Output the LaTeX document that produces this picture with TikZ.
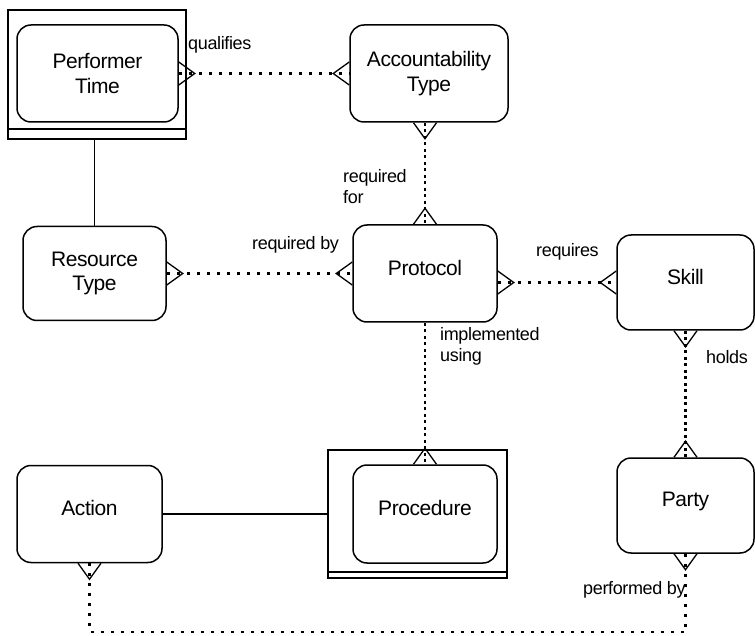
\documentclass[tikz,border=0pt]{standalone}
\usepackage{fontspec}
\setmainfont[LetterSpace=-2]{Liberation Sans}
\usepackage{tikz}
\usetikzlibrary{positioning,calc}

\begin{document}
\begin{tikzpicture}[
    x=1pt, y=-1pt,
    entity/.style={
        draw=black,
        line width=1.5pt,
        rounded corners=14pt,
        inner sep=0pt,
        align=center,
        font=\fontsize{21}{24.5}\selectfont
    },
    frame/.style={
        draw=black,
        line width=1.5pt,
        inner sep=0pt
    },
    lbl/.style={
        inner sep=0pt,
        align=left,
        anchor=west,
        font=\fontsize{18}{21}\selectfont
    },
    link/.style={line width=1.7pt},
    rel/.style={line width=2.6pt, dash pattern=on 3pt off 7pt},
    vrel/.style={line width=2.6pt, dash pattern=on 3pt off 3.5pt},
    foot/.style={line width=1.3pt},
    crow/.pic={\draw[foot] (0,-11.5) -- (-16,0) -- (0,11.5);}
]
\useasboundingbox (0,0) rectangle (755,636);

% framed entities
\node[frame, minimum width=178pt, minimum height=129pt] (ptframe) at (97,74.5) {};
\draw[link] ([yshift=11pt]ptframe.south west) -- ([yshift=11pt]ptframe.south east);
\node[frame, minimum width=179pt, minimum height=128pt] (procframe) at (417.5,514) {};
\draw[link] ([yshift=7pt]procframe.south west) -- ([yshift=7pt]procframe.south east);

% entities
\node[entity, minimum width=161pt, minimum height=97pt] (pt) at (97.5,73.5) {Performer\\Time};
\node[entity, minimum width=158pt, minimum height=97pt] (acc) at (429,73.5) {Accountability\\Type};
\node[entity, minimum width=143pt, minimum height=94pt] (restype) at (94.5,273.5) {Resource\\Type};
\node[entity, minimum width=144pt, minimum height=97pt, text depth=12pt] (prot) at (425,273.5) {Protocol};
\node[entity, minimum width=137pt, minimum height=95pt, text depth=12pt] (skill) at (685.5,282.5) {Skill};
\node[entity, minimum width=137pt, minimum height=95pt, text depth=12pt] (party) at (685.5,505.5) {Party};
\node[entity, minimum width=145pt, minimum height=97pt, text depth=12pt] (action) at (89.5,514) {Action};
\node[entity, minimum width=144pt, minimum height=98pt, text depth=12pt] (proc) at (425,514) {Procedure};

\coordinate (loop) at (0,632);

% relationships
\draw[rel] (pt.east) -- (acc.west);
\draw[vrel] (prot.north |- acc.south) -- (prot.north);
\draw[rel] (restype.east) -- (prot.west);
\draw[rel] (prot.east |- skill.west) -- (skill.west);
\draw[vrel] (prot.south) -- (proc.north);
\draw[vrel] (skill.south) -- (party.north);
\draw[rel] (action.south) -- (action.south |- loop) -| (party.south);
\draw[link] (restype.north |- ptframe.south) -- (restype.north);
\draw[link] (action.east) -- (action.east -| procframe.west);

% crow's feet
\pic[rotate=180] at (pt.east) {crow};
\pic at (acc.west) {crow};
\pic[rotate=90] at (prot.north |- acc.south) {crow};
\pic[rotate=-90] at (prot.north) {crow};
\pic[rotate=180] at (restype.east) {crow};
\pic at (prot.west) {crow};
\pic[rotate=180] at (prot.east |- skill.west) {crow};
\pic at (skill.west) {crow};
\pic[rotate=-90] at (proc.north) {crow};
\pic[rotate=90] at (skill.south) {crow};
\pic[rotate=-90] at (party.north) {crow};
\pic[rotate=90] at (party.south) {crow};
\pic[rotate=90] at (action.south) {crow};

% labels
\node[lbl] (qual) at (188,45) {qualifies};
\node[lbl] (reqfor) at (343,187) {required\\for};
\node[lbl] (reqby) at (252,245) {required by};
\node[lbl] (requires) at (536,252) {requires};
\node[lbl] (implusing) at (440,346) {implemented\\using};
\node[lbl] (holds) at (706,357) {holds};
\node[lbl] (perfby) at (583,590) {performed by};

\end{tikzpicture}
\end{document}
